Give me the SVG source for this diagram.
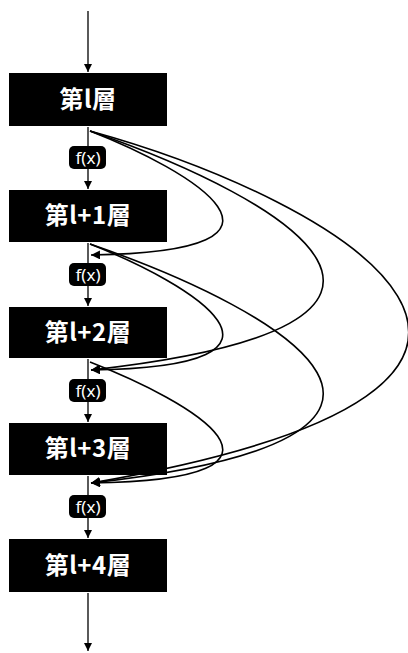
<svg xmlns="http://www.w3.org/2000/svg" width="408" height="653" viewBox="0 0 408 653">
<style>
.box{fill:#000;}
.lbl{fill:#fff;font-family:"Noto Sans CJK JP","Noto Sans",sans-serif;font-size:24px;font-weight:bold;text-anchor:middle;letter-spacing:0.5px;}
.fx{fill:#000;}
.fxt{fill:#fff;font-family:"Noto Sans","Liberation Sans",sans-serif;font-size:17px;text-anchor:middle;}
.ln{stroke:#000;stroke-width:1.3;fill:none;}
.sk{stroke:#000;stroke-width:1.6;fill:none;}
</style>
<defs>
<marker id="ah" viewBox="0 0 10 10" refX="10" refY="5" markerWidth="8" markerHeight="8" markerUnits="userSpaceOnUse" orient="auto">
<path d="M0,0 L10,5 L0,10 z" fill="#000"/>
</marker>
<marker id="ah2" viewBox="0 0 10 10" refX="10" refY="5" markerWidth="9" markerHeight="9" markerUnits="userSpaceOnUse" orient="auto">
<path d="M0,0 L10,5 L0,10 z" fill="#000"/>
</marker>
</defs>
<g id="connectors">
<line class="ln" x1="88" y1="11" x2="88" y2="72" marker-end="url(#ah)"/>
<line class="ln" x1="88" y1="127" x2="88" y2="189" marker-end="url(#ah)"/>
<line class="ln" x1="88" y1="243" x2="88" y2="306" marker-end="url(#ah)"/>
<line class="ln" x1="88" y1="359" x2="88" y2="422" marker-end="url(#ah)"/>
<line class="ln" x1="88" y1="476" x2="88" y2="538" marker-end="url(#ah)"/>
<line class="ln" x1="88" y1="593" x2="88" y2="651" marker-end="url(#ah)"/>
<path class="sk" d="M90,131 C190,170 330,252 91,255" marker-end="url(#ah2)"/>
<path class="sk" d="M90,131 C290,200 495,325 91,370" marker-end="url(#ah2)"/>
<path class="sk" d="M90,131 C340,200 660,385 91,483" marker-end="url(#ah2)"/>
<path class="sk" d="M90,244 C190,283 330,367 91,370" marker-end="url(#ah2)"/>
<path class="sk" d="M90,244 C290,313 495,438 91,483" marker-end="url(#ah2)"/>
<path class="sk" d="M90,362 C190,401 330,480 91,483" marker-end="url(#ah2)"/>
</g>
<g id="n0"><rect class="box" x="9" y="73" width="158" height="53"/><text class="lbl" x="88" y="108">第l層</text></g>
<g id="n1"><rect class="box" x="9" y="190" width="158" height="52"/><text class="lbl" x="88" y="224">第l+1層</text></g>
<g id="n2"><rect class="box" x="9" y="307" width="158" height="51"/><text class="lbl" x="88" y="341">第l+2層</text></g>
<g id="n3"><rect class="box" x="9" y="423" width="158" height="52"/><text class="lbl" x="88" y="457">第l+3層</text></g>
<g id="n4"><rect class="box" x="9" y="539" width="158" height="53"/><text class="lbl" x="88" y="574">第l+4層</text></g>
<g id="f0"><rect class="fx" x="69" y="146" width="37" height="23" rx="5"/><text class="fxt" x="88" y="163.5">f(x)</text></g>
<g id="f1"><rect class="fx" x="69" y="263" width="37" height="23" rx="5"/><text class="fxt" x="88" y="280.5">f(x)</text></g>
<g id="f2"><rect class="fx" x="69" y="379" width="37" height="23" rx="5"/><text class="fxt" x="88" y="396.5">f(x)</text></g>
<g id="f3"><rect class="fx" x="69" y="495" width="37" height="23" rx="5"/><text class="fxt" x="88" y="512.5">f(x)</text></g>
</svg>
